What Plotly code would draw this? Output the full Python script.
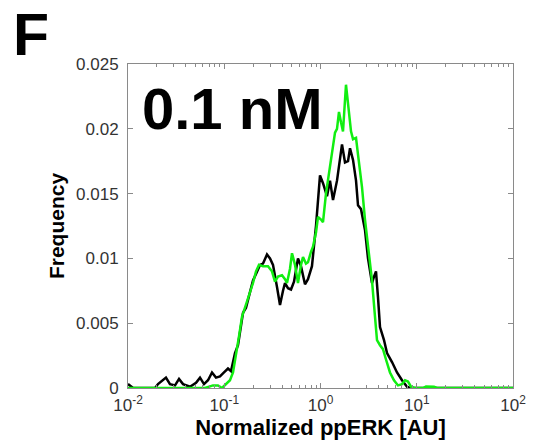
import plotly.graph_objects as go

# Black curve (ppERK, x in AU; frequency)
black_x = [0.0100, 0.0113, 0.0169, 0.0191, 0.0205, 0.0231, 0.0248, 0.0273, 0.0308, 0.0339,
           0.0373, 0.0441, 0.0509, 0.0560, 0.0616, 0.0678, 0.0746, 0.0821, 0.0903, 0.0994,
           0.1094, 0.1175, 0.1293, 0.1389, 0.1493, 0.1566, 0.1683, 0.1808, 0.1990, 0.2138,
           0.2352, 0.2528, 0.2781, 0.2988, 0.3210, 0.3532, 0.3795, 0.4077, 0.4277, 0.4595,
           0.4937, 0.5305, 0.5835, 0.6270, 0.6898, 0.7411, 0.8153, 0.8979, 0.9880, 1.062,
           1.168, 1.255, 1.349, 1.484, 1.673, 1.797, 1.931, 2.026, 2.177, 2.339,
           2.453, 2.636, 2.899, 3.115, 3.427, 3.595, 3.772, 3.957, 4.151, 4.568,
           4.909, 5.533, 6.236, 7.028, 7.921, 8.511, 100.0]
black_y = [0.0003, 0.0000, 0.0000, 0.0000, 0.0003, 0.0006, 0.0008, 0.0003, 0.0002, 0.0007,
           0.0003, 0.0001, 0.0004, 0.0008, 0.0003, 0.0006, 0.0012, 0.0008, 0.0009, 0.0012,
           0.0015, 0.0013, 0.0027, 0.0033, 0.0048, 0.0058, 0.0062, 0.0072, 0.0083, 0.0088,
           0.0095, 0.0096, 0.0103, 0.0100, 0.0095, 0.0078, 0.0064, 0.0075, 0.0081, 0.0077,
           0.0076, 0.0082, 0.0100, 0.0094, 0.0080, 0.0084, 0.0094, 0.0125, 0.0164, 0.0158,
           0.0148, 0.0160, 0.0145, 0.0160, 0.0188, 0.0174, 0.0175, 0.0185, 0.0176, 0.0160,
           0.0141, 0.0138, 0.0122, 0.0100, 0.0081, 0.0086, 0.0090, 0.0070, 0.0047, 0.0037,
           0.0027, 0.0020, 0.0012, 0.0006, 0.0001, 0.0000, 0.0000]

# Green curve
green_x = [0.0100, 0.0631, 0.0764, 0.0861, 0.0948, 0.1043, 0.1147, 0.1233, 0.1325, 0.1424,
           0.1529, 0.1643, 0.1808, 0.1990, 0.2138, 0.2297, 0.2528, 0.2847, 0.3132, 0.3366,
           0.3617, 0.3981, 0.4277, 0.4487, 0.4821, 0.5057, 0.5434, 0.5835, 0.6270, 0.6577,
           0.7066, 0.7411, 0.7962, 0.8353, 0.8979, 0.9420, 1.012, 1.062, 1.140, 1.255,
           1.349, 1.415, 1.484, 1.556, 1.633, 1.713, 1.840, 1.978, 2.075, 2.177,
           2.339, 2.453, 2.573, 2.699, 2.899, 3.115, 3.427, 3.682, 3.864, 4.151,
           4.457, 4.792, 5.272, 5.800, 6.384, 7.028, 7.550, 8.110, 8.716, 9.590,
           11.61, 12.48, 13.73, 15.11, 16.24, 100.0]
green_y = [0.0000, 0.0000, 0.0002, 0.0002, 0.0000, 0.0003, 0.0006, 0.0012, 0.0025, 0.0040,
           0.0055, 0.0062, 0.0072, 0.0081, 0.0090, 0.0095, 0.0094, 0.0094, 0.0090, 0.0082,
           0.0086, 0.0087, 0.0084, 0.0081, 0.0092, 0.0104, 0.0095, 0.0081, 0.0095, 0.0101,
           0.0096, 0.0097, 0.0105, 0.0109, 0.0120, 0.0132, 0.0130, 0.0128, 0.0150, 0.0170,
           0.0188, 0.0197, 0.0200, 0.0213, 0.0205, 0.0198, 0.0234, 0.0209, 0.0198, 0.0192,
           0.0193, 0.0180, 0.0168, 0.0155, 0.0130, 0.0110, 0.0083, 0.0055, 0.0037, 0.0033,
           0.0030, 0.0022, 0.0012, 0.0006, 0.0002, 0.0003, 0.0006, 0.0005, 0.0001, 0.0000,
           0.0000, 0.00012, 0.0001, 0.0001, 0.0000, 0.0000]

x_tickvals = [0.01, 0.1, 1, 10, 100]
x_ticktext = ["10<sup>-2</sup>", "10<sup>-1</sup>", "10<sup>0</sup>", "10<sup>1</sup>", "10<sup>2</sup>"]
y_tickvals = [0, 0.005, 0.01, 0.015, 0.02, 0.025]
y_ticktext = ["0", "0.005", "0.01", "0.015", "0.02", "0.025"]

font_family = "Liberation Sans, Arial, sans-serif"

fig = go.Figure()
fig.add_trace(go.Scatter(x=black_x, y=black_y, mode="lines",
                         line=dict(color="black", width=2.5), showlegend=False))
fig.add_trace(go.Scatter(x=green_x, y=green_y, mode="lines",
                         line=dict(color="#11ee11", width=2.5), showlegend=False))

axis_common = dict(showline=True, linecolor="#8a8a8a", linewidth=1, mirror="ticks",
                   ticks="inside", tickcolor="#8a8a8a", showgrid=False, zeroline=False,
                   automargin=False,
                   tickfont=dict(family=font_family, size=17, color="#333333"))

fig.update_xaxes(type="log", range=[-2, 2], tickvals=x_tickvals, ticktext=x_ticktext,
                 ticklen=5, ticklabelstandoff=2,
                 minor=dict(ticks="inside", ticklen=3, dtick="D1", tickcolor="#8a8a8a",
                            showgrid=False),
                 title=dict(text="<b>Normalized ppERK [AU]</b>", standoff=4,
                            font=dict(family=font_family, size=22, color="black")),
                 **axis_common)
fig.update_yaxes(range=[0, 0.025], tickvals=y_tickvals, ticktext=y_ticktext, ticklen=5,
                 ticklabelstandoff=5,
                 title=dict(text="<b>Frequency</b>", standoff=5,
                            font=dict(family=font_family, size=21, color="black")),
                 **axis_common)

fig.add_annotation(text="<b>F</b>", xref="paper", yref="paper", x=-0.303, y=1.196,
                   xanchor="left", yanchor="top", showarrow=False,
                   font=dict(family=font_family, size=59, color="black"))
fig.add_annotation(text="<b>0.1 nM</b>", xref="paper", yref="paper", x=0.030, y=0.862,
                   xanchor="left", yanchor="middle", showarrow=False,
                   font=dict(family=font_family, size=58, color="black"))

fig.update_layout(width=551, height=445, margin=dict(l=128, r=38, t=64, b=57),
                  paper_bgcolor="white", plot_bgcolor="white")

fig.write_html("out.html")
